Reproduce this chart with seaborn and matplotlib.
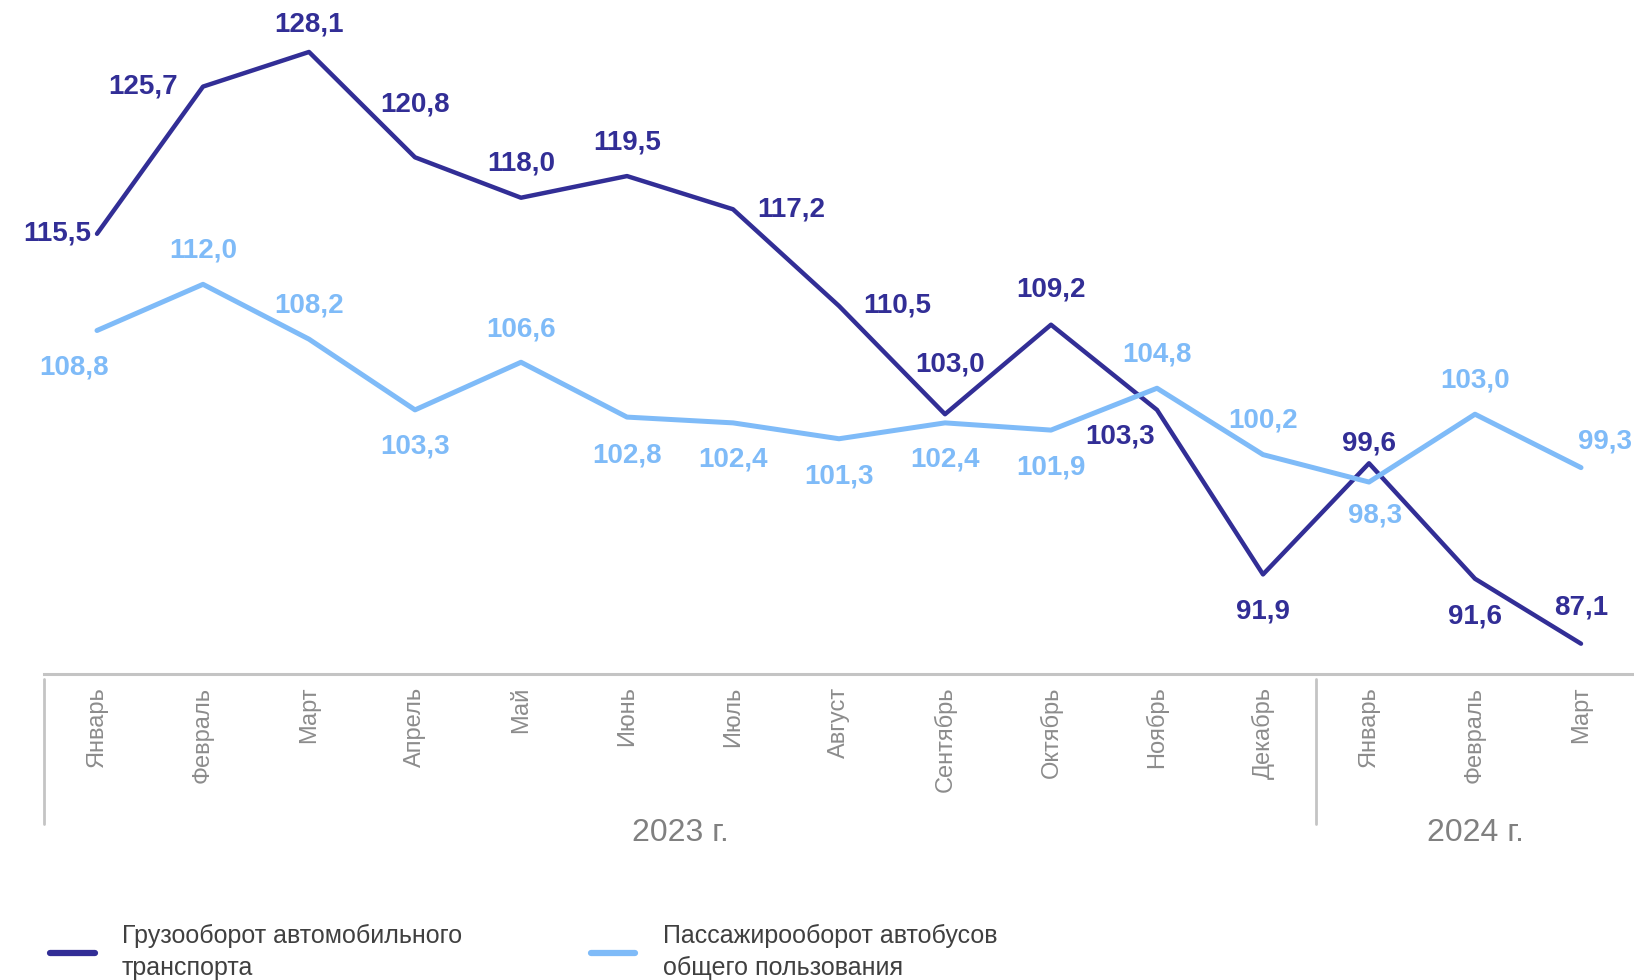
import numpy as np
import pandas as pd
import seaborn as sns
import matplotlib.pyplot as plt

months = ["Январь", "Февраль", "Март", "Апрель", "Май", "Июнь", "Июль", "Август",
          "Сентябрь", "Октябрь", "Ноябрь", "Декабрь", "Январь", "Февраль", "Март"]
cargo = [115.5, 125.7, 128.1, 120.8, 118.0, 119.5, 117.2, 110.5,
         103.0, 109.2, 103.3, 91.9, 99.6, 91.6, 87.1]
passenger = [108.8, 112.0, 108.2, 103.3, 106.6, 102.8, 102.4, 101.3,
             102.4, 101.9, 104.8, 100.2, 98.3, 103.0, 99.3]
years = ["2023 г.", "2024 г."]
year_spans = [(0, 11), (12, 14)]
cargo_name = "Грузооборот автомобильного\nтранспорта"
pass_name = "Пассажирооборот автобусов\nобщего пользования"

dark = "#322e96"
light = "#7fbbf8"

sns.set_style("white")
plt.rcParams["font.family"] = ["Liberation Sans", "DejaVu Sans"]

pos = np.arange(len(months))
df = pd.DataFrame({
    "pos": np.concatenate([pos, pos]),
    "value": cargo + passenger,
    "series": [cargo_name] * len(pos) + [pass_name] * len(pos),
})

fig = plt.figure(figsize=(16.34, 9.8), dpi=100)
ax = fig.add_axes([44 / 1634, 1 - 674 / 980, 1590 / 1634, 674 / 980])
sns.lineplot(data=df, x="pos", y="value", hue="series",
             palette={cargo_name: dark, pass_name: light},
             linewidth=3.6, ax=ax)
ax.lines[0].set_linewidth(3.2)

ax.set_xlim(-0.5, 14.5)
ax.set_ylim(85, 131.7)
ax.set_yticks([])
ax.set_xlabel("")
ax.set_ylabel("")
ax.set_xticks(pos)
ax.set_xticklabels(months, rotation=90, fontsize=17, color="#8c8c8c")
ax.tick_params(axis="x", length=0, pad=9)
for s in ["top", "left", "right"]:
    ax.spines[s].set_visible(False)
ax.spines["bottom"].set_color("#c4c4c4")
ax.spines["bottom"].set_linewidth(2.2)

# data labels
dark_off = [(-40, 0), (-60, 0), (0, 27), (0, 53), (0, 34), (0, 34), (58, 0), (58, 0),
            (5, 50), (0, 35), (-37, -27), (0, -37), (0, 20), (0, -38), (0, 36)]
light_off = [(-23, -37), (0, 34), (0, 34), (0, -37), (0, 33), (0, -38), (0, -37), (0, -38),
             (0, -37), (0, -37), (0, 34), (0, 34), (6, -33), (0, 34), (24, 26)]
for vals, offs, col in [(cargo, dark_off, dark), (passenger, light_off, light)]:
    for i, v in enumerate(vals):
        ax.annotate(f"{v:.1f}".replace(".", ","), (i, v), xytext=offs[i],
                    textcoords="offset pixels", ha="center", va="center",
                    fontsize=20, fontweight="bold", color=col)

# year groups
tr = ax.get_xaxis_transform()
for sep in [-0.5, 11.5]:
    ax.plot([sep, sep], [-5 / 674, -150 / 674], transform=tr, color="#c4c4c4",
            linewidth=2, clip_on=False)
for (a, b), name in zip(year_spans, years):
    ax.text((a + b) / 2, -159 / 674, name, transform=tr, ha="center", va="center",
            fontsize=23, color="#808080")

leg = ax.legend(loc="center left", bbox_to_anchor=(50 / 1634, 1 - 952 / 980),
                bbox_transform=fig.transFigure, ncol=2, frameon=False,
                handlelength=1.78, handletextpad=1.1, columnspacing=5.15,
                borderpad=0, borderaxespad=0,
                prop={"size": 18})
for t in leg.get_texts():
    t.set_color("#404040")
    t.set_linespacing(1.4)
for h in leg.get_lines():
    h.set_linewidth(4.5)

fig.savefig("out.png", dpi=100)
